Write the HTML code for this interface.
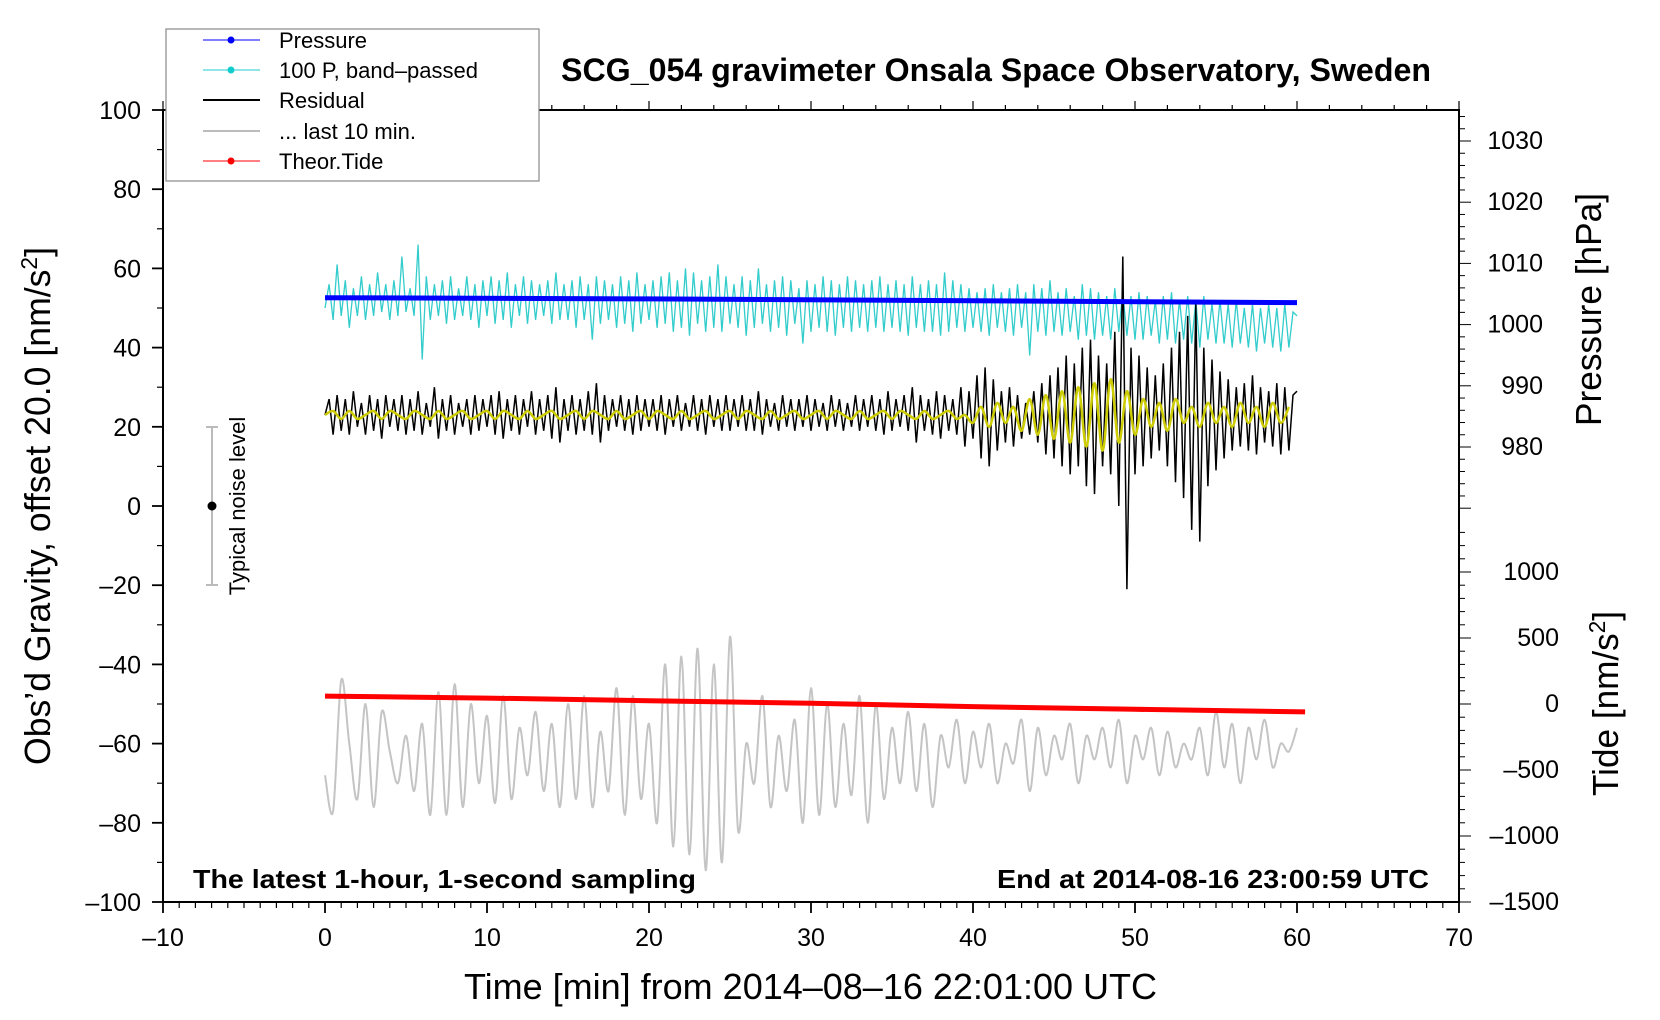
<!DOCTYPE html>
<html><head><meta charset="utf-8">
<style>
html,body{margin:0;padding:0;background:#fff;}
svg{display:block;font-family:"Liberation Sans",Arial,sans-serif;}
</style></head>
<body>
<svg id="chart" width="1660" height="1020" viewBox="0 0 1660 1020" xmlns="http://www.w3.org/2000/svg">
<rect x="0" y="0" width="1660" height="1020" fill="#fff"/>
<g id="data"></g>
<g id="axes"></g>
<text x="561" y="81" font-size="32" font-weight="bold" textLength="870" lengthAdjust="spacingAndGlyphs">SCG_054 gravimeter Onsala Space Observatory, Sweden</text>
<text x="193" y="888" font-size="26" font-weight="bold" textLength="503" lengthAdjust="spacingAndGlyphs">The latest 1-hour, 1-second sampling</text>
<text x="997" y="888" font-size="26" font-weight="bold" textLength="432" lengthAdjust="spacingAndGlyphs">End at 2014-08-16 23:00:59 UTC</text>
<text x="464" y="999" font-size="36" textLength="693" lengthAdjust="spacingAndGlyphs">Time [min] from 2014–08–16 22:01:00 UTC</text>
<text transform="translate(50,765) rotate(-90)" font-size="36" textLength="518" lengthAdjust="spacingAndGlyphs">Obs’d Gravity, offset 20.0 [nm/s<tspan baseline-shift="super" font-size="23">2</tspan>]</text>
<text transform="translate(1601,426) rotate(-90)" font-size="36" textLength="233" lengthAdjust="spacingAndGlyphs">Pressure [hPa]</text>
<text transform="translate(1618,796) rotate(-90)" font-size="36" textLength="185" lengthAdjust="spacingAndGlyphs">Tide [nm/s<tspan baseline-shift="super" font-size="23">2</tspan>]</text>
<g>
<line x1="212" y1="427" x2="212" y2="585" stroke="#bbb" stroke-width="2"/>
<line x1="206" y1="427" x2="218" y2="427" stroke="#bbb" stroke-width="2"/>
<line x1="206" y1="585" x2="218" y2="585" stroke="#bbb" stroke-width="2"/>
<circle cx="212" cy="506" r="4.5" fill="#000"/>
<text transform="translate(245,506) rotate(-90)" font-size="22" text-anchor="middle">Typical noise level</text>
</g>
<g>
<rect x="166" y="29" width="373" height="152" fill="#fff" stroke="#888" stroke-width="1.2"/>
<g><line x1="203" y1="40" x2="260" y2="40" stroke="#00f" stroke-width="1"/><circle cx="231" cy="40" r="3.5" fill="#00f"/><text x="279" y="48" font-size="22">Pressure</text></g>
<g><line x1="203" y1="70" x2="260" y2="70" stroke="#2cc" stroke-width="1"/><circle cx="231" cy="70" r="3.5" fill="#1cc"/><text x="279" y="78" font-size="22">100 P, band–passed</text></g>
<g><line x1="203" y1="100" x2="260" y2="100" stroke="#000" stroke-width="2"/><text x="279" y="108" font-size="22">Residual</text></g>
<g><line x1="203" y1="131" x2="260" y2="131" stroke="#bbb" stroke-width="2"/><text x="279" y="139" font-size="22">... last 10 min.</text></g>
<g><line x1="203" y1="161" x2="260" y2="161" stroke="#f00" stroke-width="1"/><circle cx="231" cy="161" r="3.5" fill="#f00"/><text x="279" y="169" font-size="22">Theor.Tide</text></g>
</g>
</svg>
<script>
// ---- data ----
const residualDt = 0.25;
const residual = [23,27,18,28,19,27,18,29,20,26,18,28,19,27,17,28,20,27,19,28,18,
27,19,29,18,26,20,30,17,27,19,28,18,26,20,27,18,28,19,27,20,
28,18,29,17,27,19,28,18,27,20,29,18,27,19,28,17,30,16,27,19,
28,18,27,19,29,18,31,16,28,19,27,20,28,19,27,18,28,19,27,20,
27,19,28,18,27,20,28,19,26,20,28,19,27,18,28,20,27,19,28,19,
27,20,28,19,27,19,29,18,27,20,26,19,28,20,27,19,27,20,28,19,
27,20,26,19,28,20,27,19,26,20,28,19,27,20,28,19,27,18,29,19,
27,20,28,19,30,16,28,19,27,18,29,17,28,19,27,18,30,15,29,17,
33,12,35,10,32,14,29,16,30,15,28,17,26,18,29,16,31,13,33,12,
35,10,38,8,36,10,40,5,42,3,38,10,36,8,44,0,63,-21,40,8,
38,10,35,12,33,14,36,10,40,6,44,2,48,-6,51,-9,40,5,37,9,
34,12,32,14,30,15,31,14,33,13,30,16,29,15,31,13,30,14,28,29];
const yellowDt = 0.5;
const yellow = [23,24,22,24,22,23,24,22,24,23,22,24,23,22,24,22,23,24,22,23,24,
22,24,23,22,24,22,23,24,22,23,24,22,24,23,22,24,22,23,24,
22,24,23,22,24,22,23,24,22,23,24,22,24,23,22,24,22,23,24,22,
23,24,22,24,23,22,24,22,23,24,22,24,23,22,24,22,23,24,22,23,
21,25,20,26,21,25,19,27,18,28,17,29,16,30,15,31,14,32,16,29,
18,27,20,26,19,27,21,25,20,26,21,25,20,26,21,25,20,26,21,25];
const cyanDt = 0.25;
const cyan = [50,56,47,61,48,57,45,55,48,58,47,56,48,59,49,56,47,57,48,63,49,
55,48,66,37,58,47,56,48,57,46,58,47,55,48,58,47,56,45,57,48,
58,46,57,47,59,45,56,48,58,46,57,47,56,48,57,46,59,47,56,47,
57,45,58,47,56,42,58,46,57,47,56,45,58,46,57,44,59,46,56,47,
57,45,58,46,59,44,57,45,60,43,59,46,57,44,58,45,61,44,58,46,
56,45,58,43,57,45,60,46,56,44,57,45,58,43,57,46,55,41,57,44,
56,45,58,44,57,43,56,45,58,44,57,45,56,44,57,45,58,44,56,45,
57,44,56,43,58,45,56,44,57,44,56,43,59,44,57,45,56,44,55,45,
54,44,55,43,56,45,54,44,55,43,56,45,54,38,56,44,55,43,57,44,
54,43,55,44,53,42,56,43,55,42,54,43,53,42,55,44,54,43,53,42,
54,42,53,43,52,41,53,42,54,41,52,42,53,41,52,40,53,42,51,41,
52,41,51,40,52,41,50,40,51,39,50,41,51,40,50,39,51,40,49,48];
const grayDt = 0.5;
const gray = [-68,-77,-44,-60,-74,-50,-76,-52,-62,-70,-58,-72,-55,-78,-47,-78,-45,-76,-50,-70,-53,
-75,-48,-74,-56,-68,-52,-72,-55,-76,-50,-74,-48,-76,-57,-72,-46,-78,-48,-74,-55,
-80,-40,-86,-38,-88,-36,-92,-40,-90,-33,-82,-60,-70,-48,-76,-58,-72,-54,-80,-46,
-78,-50,-76,-55,-73,-48,-80,-50,-74,-56,-70,-52,-72,-55,-76,-58,-66,-54,-70,-57,
-66,-55,-70,-60,-65,-54,-72,-56,-68,-58,-64,-55,-70,-58,-64,-56,-66,-54,-70,-58,
-64,-56,-68,-57,-66,-60,-64,-56,-68,-52,-66,-55,-70,-56,-64,-54,-66,-60,-62,-56];
const pressureT = [0, 20, 40, 60];
const pressureV = [1004.4, 1004.2, 1003.9, 1003.6];
const tideT = [0, 10, 20, 30, 40, 50, 60.5];
const tideV = [60, 45, 25, 5, -20, -40, -60];
const xTicks = [-10, 0, 10, 20, 30, 40, 50, 60, 70];
const yTicks = [100, 80, 60, 40, 20, 0, -20, -40, -60, -80, -100];
const pTicks = [980, 990, 1000, 1010, 1020, 1030];
const tTicks = [1000, 500, 0, -500, -1000, -1500];

// ---- scales ----
const X0=163, X1=1459, Y0=110, Y1=902;
const xs = t => X0 + (t + 10) * (X1 - X0) / 80;
const ys = g => Y0 + (100 - g) * (Y1 - Y0) / 200;
const yp = p => 141 + (1030 - p) * 6.12;
const yt = v => 572 + (1000 - v) * (902 - 572) / 2500;
const NS = "http://www.w3.org/2000/svg";
const dataG = document.getElementById('data');
const axG = document.getElementById('axes');
function mk(tag, attrs, parent){const e=document.createElementNS(NS,tag);for(const k in attrs)e.setAttribute(k,attrs[k]);parent.appendChild(e);return e;}
function smoothPath(pts){
  let d='M'+pts[0][0].toFixed(1)+','+pts[0][1].toFixed(1);
  for(let i=0;i<pts.length-1;i++){
    const p0=pts[Math.max(0,i-1)],p1=pts[i],p2=pts[i+1],p3=pts[Math.min(pts.length-1,i+2)];
    const c1=[p1[0]+(p2[0]-p0[0])/6,p1[1]+(p2[1]-p0[1])/6];
    const c2=[p2[0]-(p3[0]-p1[0])/6,p2[1]-(p3[1]-p1[1])/6];
    d+='C'+c1[0].toFixed(1)+','+c1[1].toFixed(1)+' '+c2[0].toFixed(1)+','+c2[1].toFixed(1)+' '+p2[0].toFixed(1)+','+p2[1].toFixed(1);
  }
  return d;
}
function linePath(pts){return 'M'+pts.map(p=>p[0].toFixed(1)+','+p[1].toFixed(1)).join('L');}

let el = mk('path',{d:smoothPath(gray.map((v,i)=>[xs(i*grayDt),ys(v)])),fill:'none',stroke:'#c4c4c4','stroke-width':2},dataG);


el = mk('path',{d:linePath(cyan.map((v,i)=>[xs(i*cyanDt),ys(v)])),fill:'none',stroke:'#33cccc','stroke-width':1.3},dataG);


el = mk('path',{d:linePath(residual.map((v,i)=>[xs(i*residualDt),ys(v)])),fill:'none',stroke:'#000','stroke-width':1.5},dataG);


el = mk('path',{d:smoothPath(yellow.map((v,i)=>[xs(i*yellowDt),ys(v)])),fill:'none',stroke:'#cccc00','stroke-width':2.5},dataG);


el = mk('path',{d:linePath(pressureT.map((t,i)=>[xs(t),yp(pressureV[i])])),fill:'none',stroke:'#0000ff','stroke-width':5},dataG);


el = mk('path',{d:linePath(tideT.map((t,i)=>[xs(t),yt(tideV[i])])),fill:'none',stroke:'#ff0000','stroke-width':5},dataG);



// ---- axes ----
el = mk('rect',{x:X0,y:Y0,width:X1-X0,height:Y1-Y0,fill:'none',stroke:'#000','stroke-width':2},axG);


let ax = mk('g',{},axG);


for(let t=-10;t<=70;t++){
  const big = t%10===0;
  mk('line',{x1:xs(t),y1:Y1,x2:xs(t),y2:Y1+(big?11:6),stroke:'#000','stroke-width':big?1.8:1.2},ax);
  if(t%2===0) mk('line',{x1:xs(t),y1:Y0,x2:xs(t),y2:Y0-(big?9:5),stroke:'#000','stroke-width':1.2},ax);
}
xTicks.forEach(t=>{const e=mk('text',{x:xs(t),y:946,'font-size':25,'text-anchor':'middle'},ax);e.textContent=String(t).replace('-','–');});
ax = mk('g',{},axG);


for(let g=-100;g<=100;g+=10){
  const big = g%20===0;
  mk('line',{x1:X0,y1:ys(g),x2:X0-(big?11:6),y2:ys(g),stroke:'#000','stroke-width':big?1.8:1.2},ax);
}
yTicks.forEach(g=>{const e=mk('text',{x:141,y:ys(g)+9,'font-size':25,'text-anchor':'end'},ax);e.textContent=String(g).replace('-','–');});
ax = mk('g',{},axG);


for(let p=970;p<=1034;p+=2){
  const big=p%10===0;
  mk('line',{x1:X1,y1:yp(p),x2:X1+(big?12:6),y2:yp(p),stroke:'#000','stroke-width':1},ax);
}
pTicks.forEach(p=>{const e=mk('text',{x:1543,y:yp(p)+8,'font-size':25,'text-anchor':'end'},ax);e.textContent=p;});
ax = mk('g',{},axG);


for(let v=-1500;v<=1300;v+=100){
  const big=v%500===0;
  mk('line',{x1:X1,y1:yt(v),x2:X1+(big?12:6),y2:yt(v),stroke:'#000','stroke-width':1},ax);
}
tTicks.forEach(v=>{const e=mk('text',{x:1559,y:yt(v)+8,'font-size':25,'text-anchor':'end'},ax);e.textContent=String(v).replace('-','–');});
</script>
</body></html>
